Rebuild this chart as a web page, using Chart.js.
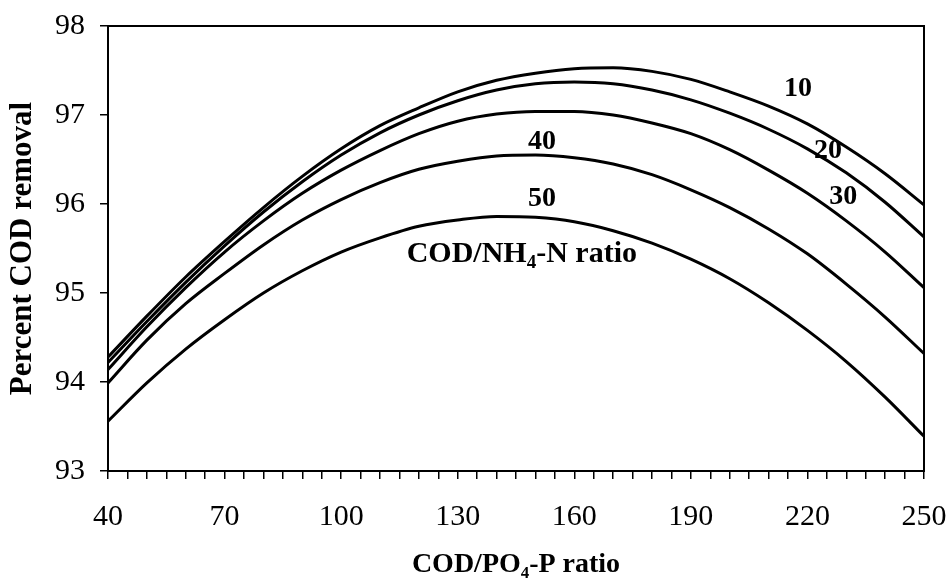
<!DOCTYPE html>
<html>
<head>
<meta charset="utf-8">
<script src="https://cdn.jsdelivr.net/npm/chart.js@4.4.1/dist/chart.umd.min.js"></script>
<style>
  html, body { margin: 0; padding: 0; background: #ffffff; }
  #wrap { width: 950px; height: 587px; }
</style>
</head>
<body>
<div id="wrap"><canvas id="c" width="950" height="587"></canvas></div>
<script>
// ---- data ----
const xValues = [40, 50, 60, 70, 80, 90, 100, 110, 120, 130, 140, 150, 160, 170, 180, 190, 200, 210, 220, 230, 240, 250];
const ratio10 = [94.28, 94.74, 95.18, 95.58, 95.96, 96.31, 96.62, 96.88, 97.08, 97.26, 97.39, 97.47, 97.52, 97.53, 97.49, 97.40, 97.26, 97.10, 96.90, 96.64, 96.34, 95.99];
const ratio20 = [94.22, 94.68, 95.12, 95.53, 95.91, 96.25, 96.55, 96.80, 97.00, 97.16, 97.28, 97.35, 97.37, 97.35, 97.28, 97.17, 97.02, 96.84, 96.62, 96.35, 96.02, 95.63];
const ratio30 = [94.14, 94.62, 95.06, 95.46, 95.81, 96.12, 96.38, 96.60, 96.79, 96.93, 97.01, 97.04, 97.04, 97.00, 96.91, 96.79, 96.61, 96.38, 96.12, 95.81, 95.46, 95.06];
const ratio40 = [93.99, 94.47, 94.88, 95.22, 95.54, 95.82, 96.05, 96.24, 96.39, 96.48, 96.54, 96.55, 96.52, 96.45, 96.33, 96.16, 95.96, 95.72, 95.44, 95.10, 94.73, 94.32];
const ratio50 = [93.56, 93.99, 94.37, 94.70, 95.00, 95.25, 95.46, 95.62, 95.75, 95.82, 95.86, 95.85, 95.80, 95.70, 95.56, 95.38, 95.16, 94.89, 94.58, 94.23, 93.83, 93.39];
const seriesNames = ['10', '20', '30', '40', '50'];
const xTickLabels = [40, 70, 100, 130, 160, 190, 220, 250];
const yTickLabels = [93, 94, 95, 96, 97, 98];
const xTitle = 'COD/PO\u2084-P ratio';
const yTitle = 'Percent COD removal';

// in-plot annotations, anchored in data units
const curveLabels = [
  { text: '10', x: 217.6, y: 97.30 },
  { text: '20', x: 225.3, y: 96.60 },
  { text: '30', x: 229.2, y: 96.08 },
  { text: '40', x: 151.7, y: 96.70 },
  { text: '50', x: 151.7, y: 96.06 }
];
const legendNote = { parts: ['COD/NH', '4', '-N ratio'], x: 146.5, y: 95.46 };

const FAMILY = '"Liberation Serif", "Times New Roman", serif';
const allSeries = [ratio10, ratio20, ratio30, ratio40, ratio50];

const datasets = allSeries.map((vals, i) => ({
  label: seriesNames[i],
  data: xValues.map((x, j) => ({ x: x, y: vals[j] })),
  borderColor: '#000000',
  backgroundColor: '#000000',
  borderWidth: 3,
  pointRadius: 0,
  fill: false,
  cubicInterpolationMode: 'monotone'
}));

const framePlugin = {
  id: 'frameAndNotes',
  afterDraw(chart) {
    const { ctx, chartArea: a, scales } = chart;
    ctx.save();
    ctx.strokeStyle = '#000000';
    ctx.lineWidth = 2;
    ctx.strokeRect(a.left, a.top, a.right - a.left, a.bottom - a.top);

    ctx.fillStyle = '#000000';
    ctx.textAlign = 'center';
    ctx.textBaseline = 'middle';
    ctx.font = 'bold 28px ' + FAMILY;
    curveLabels.forEach(l => {
      ctx.fillText(l.text, scales.x.getPixelForValue(l.x), scales.y.getPixelForValue(l.y));
    });

    // "COD/NH4-N ratio" with a real subscript
    const bigFont = 'bold 30px ' + FAMILY;
    const subFont = 'bold 19px ' + FAMILY;
    ctx.textAlign = 'left';
    ctx.textBaseline = 'alphabetic';
    const widths = legendNote.parts.map((p, i) => {
      ctx.font = i === 1 ? subFont : bigFont;
      return ctx.measureText(p).width;
    });
    const total = widths.reduce((s, w) => s + w, 0);
    let px = scales.x.getPixelForValue(legendNote.x) - total / 2;
    const base = scales.y.getPixelForValue(legendNote.y) + 10;
    legendNote.parts.forEach((p, i) => {
      ctx.font = i === 1 ? subFont : bigFont;
      ctx.fillText(p, px, i === 1 ? base + 6 : base);
      px += widths[i];
    });
    ctx.restore();
  }
};

new Chart(document.getElementById('c'), {
  type: 'line',
  data: { datasets: datasets },
  plugins: [framePlugin],
  options: {
    responsive: false,
    animation: false,
    devicePixelRatio: 1,
    layout: { padding: { left: 0, right: 26, top: 26, bottom: 0 } },
    plugins: { legend: { display: false }, tooltip: { enabled: false } },
    scales: {
      x: {
        type: 'linear',
        min: xTickLabels[0],
        max: xTickLabels[xTickLabels.length - 1],
        ticks: {
          stepSize: 5,
          autoSkip: false,
          maxRotation: 0,
          color: '#000000',
          font: { family: FAMILY, size: 30 },
          padding: 20,
          callback: v => (xTickLabels.includes(v) ? String(v) : '')
        },
        grid: { drawOnChartArea: false, drawTicks: true, tickLength: 8, color: '#000000', lineWidth: 1.5 },
        border: { display: true, color: '#000000', width: 2 },
        title: {
          display: true,
          text: xTitle,
          color: '#000000',
          font: { family: FAMILY, size: 28, weight: 'bold' },
          padding: { top: 0, bottom: 5 }
        },
        afterFit: s => { s.height = 116; s.paddingLeft = 0; s.paddingRight = 0; }
      },
      y: {
        type: 'linear',
        min: yTickLabels[0],
        max: yTickLabels[yTickLabels.length - 1],
        ticks: {
          stepSize: 1,
          color: '#000000',
          font: { family: FAMILY, size: 30 },
          padding: 15,
          callback: v => (yTickLabels.includes(v) ? String(v) : '')
        },
        grid: { drawOnChartArea: false, drawTicks: true, tickLength: 8, color: '#000000', lineWidth: 1.5 },
        border: { display: true, color: '#000000', width: 2 },
        title: {
          display: true,
          text: yTitle,
          color: '#000000',
          font: { family: FAMILY, size: 31, weight: 'bold' },
          padding: { top: 4, bottom: 0 }
        },
        afterFit: s => { s.width = 108; s.paddingTop = 0; s.paddingBottom = 0; }
      }
    }
  }
});
</script>
</body>
</html>
